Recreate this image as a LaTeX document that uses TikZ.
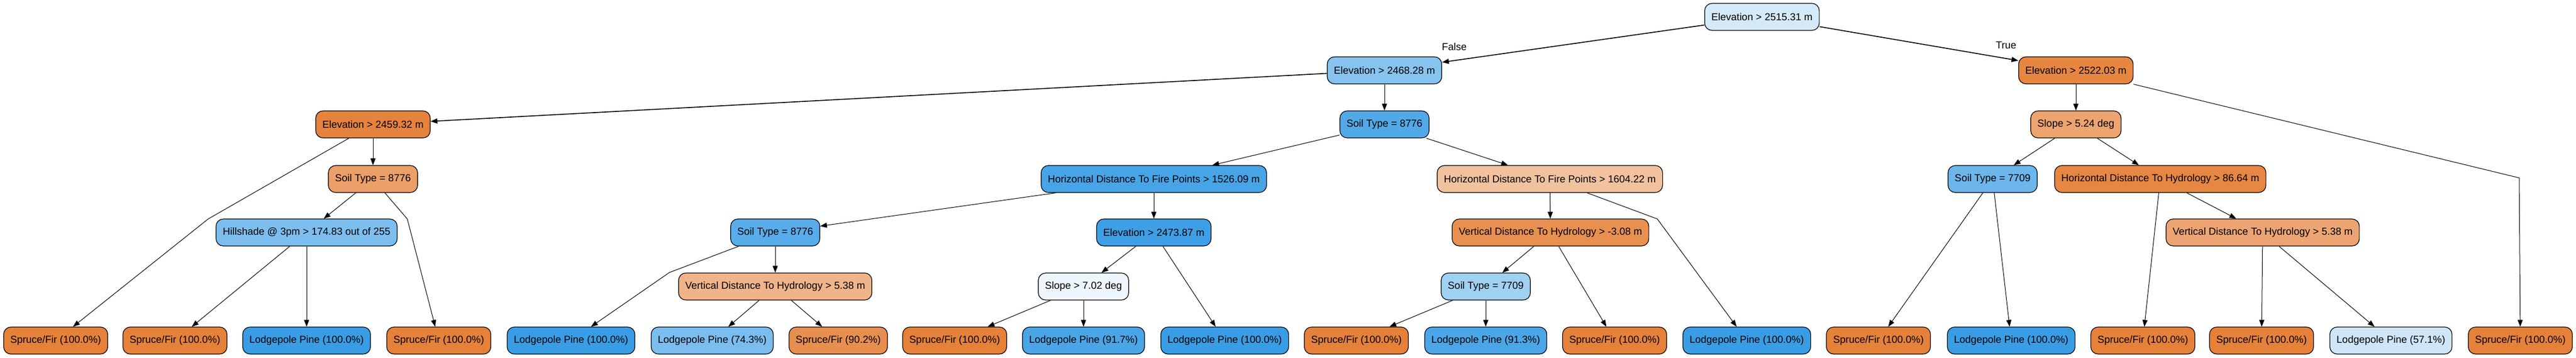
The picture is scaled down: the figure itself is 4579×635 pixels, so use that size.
\documentclass[tikz,border=0pt]{standalone}
\usepackage{fontspec}
\setmainfont{Liberation Sans}
\usetikzlibrary{arrows.meta}
\definecolor{cRoot}{HTML}{D5EAF9}
\definecolor{cNa}{HTML}{86C3EF}
\definecolor{cNb}{HTML}{E68641}
\definecolor{cNc}{HTML}{E5833C}
\definecolor{cNd}{HTML}{52A9E8}
\definecolor{cNe}{HTML}{ECA470}
\definecolor{cNf}{HTML}{EBA06A}
\definecolor{cNg}{HTML}{47A4E7}
\definecolor{cNh}{HTML}{F2C29F}
\definecolor{cNi}{HTML}{6CB6EC}
\definecolor{cNj}{HTML}{E68743}
\definecolor{cNk}{HTML}{7DBEEE}
\definecolor{cNl}{HTML}{58ACEA}
\definecolor{cNm}{HTML}{3E9FE6}
\definecolor{cNn}{HTML}{E89050}
\definecolor{cNo}{HTML}{ECA572}
\definecolor{cNp}{HTML}{F0B48A}
\definecolor{cNq}{HTML}{EEF6FD}
\definecolor{cNr}{HTML}{A0D0F2}
\definecolor{cSpruce}{HTML}{E58139}
\definecolor{cLodge}{HTML}{399DE5}
\definecolor{cLa}{HTML}{7BBDEE}
\definecolor{cLb}{HTML}{E88F4F}
\definecolor{cLc}{HTML}{4AA5E7}
\definecolor{cLd}{HTML}{4BA6E7}
\definecolor{cLe}{HTML}{CEE6F8}
\tikzset{
  treenode/.style={draw=black, line width=1.2pt, rounded corners=13pt,
    minimum height=48pt, inner xsep=12pt, inner ysep=0pt,
    font=\fontsize{18}{21}\selectfont, anchor=center},
  edge/.style={draw=black, line width=1pt, -{Triangle[length=12pt,width=9pt]}},
  thickedge/.style={edge, line width=1.6pt},
  elabel/.style={font=\fontsize{18}{21}\selectfont}
}
\begin{document}
\begin{tikzpicture}[x=1pt,y=-1pt]
\useasboundingbox (0,0) rectangle (4579,635);
% internal nodes
\node[treenode, fill=cRoot] (root) at (3132,30) {Elevation > 2515.31 m};
\node[treenode, fill=cNa] (n1) at (2461,125) {Elevation > 2468.28 m};
\node[treenode, fill=cNb] (n2) at (3690,125) {Elevation > 2522.03 m};
\node[treenode, fill=cNc] (n3) at (663,221) {Elevation > 2459.32 m};
\node[treenode, fill=cNd] (n4) at (2461,221) {Soil Type = 8776};
\node[treenode, fill=cNe] (n5) at (3690,221) {Slope > 5.24 deg};
\node[treenode, fill=cNf] (n6) at (663,318) {Soil Type = 8776};
\node[treenode, fill=cNg] (n7) at (2051,318) {Horizontal Distance To Fire Points > 1526.09 m};
\node[treenode, fill=cNh] (n8) at (2755,318) {Horizontal Distance To Fire Points > 1604.22 m};
\node[treenode, fill=cNi] (n9) at (3542,318) {Soil Type = 7709};
\node[treenode, fill=cNj] (n10) at (3840,318) {Horizontal Distance To Hydrology > 86.64 m};
\node[treenode, fill=cNk] (n11) at (545,413) {Hillshade @ 3pm > 174.83 out of 255};
\node[treenode, fill=cNl] (n12) at (1378,413) {Soil Type = 8776};
\node[treenode, fill=cNm] (n13) at (2051,413) {Elevation > 2473.87 m};
\node[treenode, fill=cNn] (n14) at (2756,413) {Vertical Distance To Hydrology > -3.08 m};
\node[treenode, fill=cNo] (n15) at (4022,413) {Vertical Distance To Hydrology > 5.38 m};
\node[treenode, fill=cNp] (n16) at (1378,509) {Vertical Distance To Hydrology > 5.38 m};
\node[treenode, fill=cNq] (n17) at (1926,509) {Slope > 7.02 deg};
\node[treenode, fill=cNr] (n18) at (2641,509) {Soil Type = 7709};
% leaves
\node[treenode, fill=cSpruce] (l1) at (99,605) {Spruce/Fir (100.0\%)};
\node[treenode, fill=cSpruce] (l2) at (311,605) {Spruce/Fir (100.0\%)};
\node[treenode, fill=cLodge] (l3) at (545,605) {Lodgepole Pine (100.0\%)};
\node[treenode, fill=cSpruce] (l4) at (780,605) {Spruce/Fir (100.0\%)};
\node[treenode, fill=cLodge] (l5) at (1015,605) {Lodgepole Pine (100.0\%)};
\node[treenode, fill=cLa] (l6) at (1266,605) {Lodgepole Pine (74.3\%)};
\node[treenode, fill=cLb] (l7) at (1490,605) {Spruce/Fir (90.2\%)};
\node[treenode, fill=cSpruce] (l8) at (1697,605) {Spruce/Fir (100.0\%)};
\node[treenode, fill=cLc] (l9) at (1926,605) {Lodgepole Pine (91.7\%)};
\node[treenode, fill=cLodge] (l10) at (2177,605) {Lodgepole Pine (100.0\%)};
\node[treenode, fill=cSpruce] (l11) at (2411,605) {Spruce/Fir (100.0\%)};
\node[treenode, fill=cLd] (l12) at (2641,605) {Lodgepole Pine (91.3\%)};
\node[treenode, fill=cSpruce] (l13) at (2870,605) {Spruce/Fir (100.0\%)};
\node[treenode, fill=cLodge] (l14) at (3105,605) {Lodgepole Pine (100.0\%)};
\node[treenode, fill=cSpruce] (l15) at (3339,605) {Spruce/Fir (100.0\%)};
\node[treenode, fill=cLodge] (l16) at (3575,605) {Lodgepole Pine (100.0\%)};
\node[treenode, fill=cSpruce] (l17) at (3809,605) {Spruce/Fir (100.0\%)};
\node[treenode, fill=cSpruce] (l18) at (4020,605) {Spruce/Fir (100.0\%)};
\node[treenode, fill=cLe] (l19) at (4250,605) {Lodgepole Pine (57.1\%)};
\node[treenode, fill=cSpruce] (l20) at (4480,605) {Spruce/Fir (100.0\%)};
% bend points
\coordinate (b1) at (4478,316);
\coordinate (b2) at (370,389);
\coordinate (b3) at (724,389);
\coordinate (b4) at (1190,484);
\coordinate (b5) at (2946,389);
% edge labels
\node[elabel] (lf) at (2585,83) {False};
\node[elabel] (lt) at (3566,80) {True};
% edges
\draw[thickedge] (root) -- (n1);
\draw[thickedge] (root) -- (n2);
\draw[thickedge] (n1) -- (n3);
\draw[edge] (n1) -- (n4);
\draw[edge] (n2) -- (n5);
\draw[edge] (n2.south east) -- (b1) -- (l20);
\draw[edge] (n3) -- (b2) -- (l1);
\draw[edge] (n3) -- (n6);
\draw[edge] (n6) -- (n11);
\draw[edge] (n6) -- (b3) -- (l4);
\draw[edge] (n11) -- (l2);
\draw[edge] (n11) -- (l3);
\draw[edge] (n4) -- (n7);
\draw[edge] (n4) -- (n8);
\draw[edge] (n7) -- (n12);
\draw[edge] (n7) -- (n13);
\draw[edge] (n12) -- (b4) -- (l5);
\draw[edge] (n12) -- (n16);
\draw[edge] (n16) -- (l6);
\draw[edge] (n16) -- (l7);
\draw[edge] (n13) -- (n17);
\draw[edge] (n13) -- (l10);
\draw[edge] (n17) -- (l8);
\draw[edge] (n17) -- (l9);
\draw[edge] (n8) -- (n14);
\draw[edge] (n8) -- (b5) -- (l14);
\draw[edge] (n14) -- (n18);
\draw[edge] (n14) -- (l13);
\draw[edge] (n18) -- (l11);
\draw[edge] (n18) -- (l12);
\draw[edge] (n5) -- (n9);
\draw[edge] (n5) -- (n10);
\draw[edge] (n9) -- (l15);
\draw[edge] (n9) -- (l16);
\draw[edge] (n10) -- (l17);
\draw[edge] (n10) -- (n15);
\draw[edge] (n15) -- (l18);
\draw[edge] (n15) -- (l19);
\end{tikzpicture}
\end{document}
